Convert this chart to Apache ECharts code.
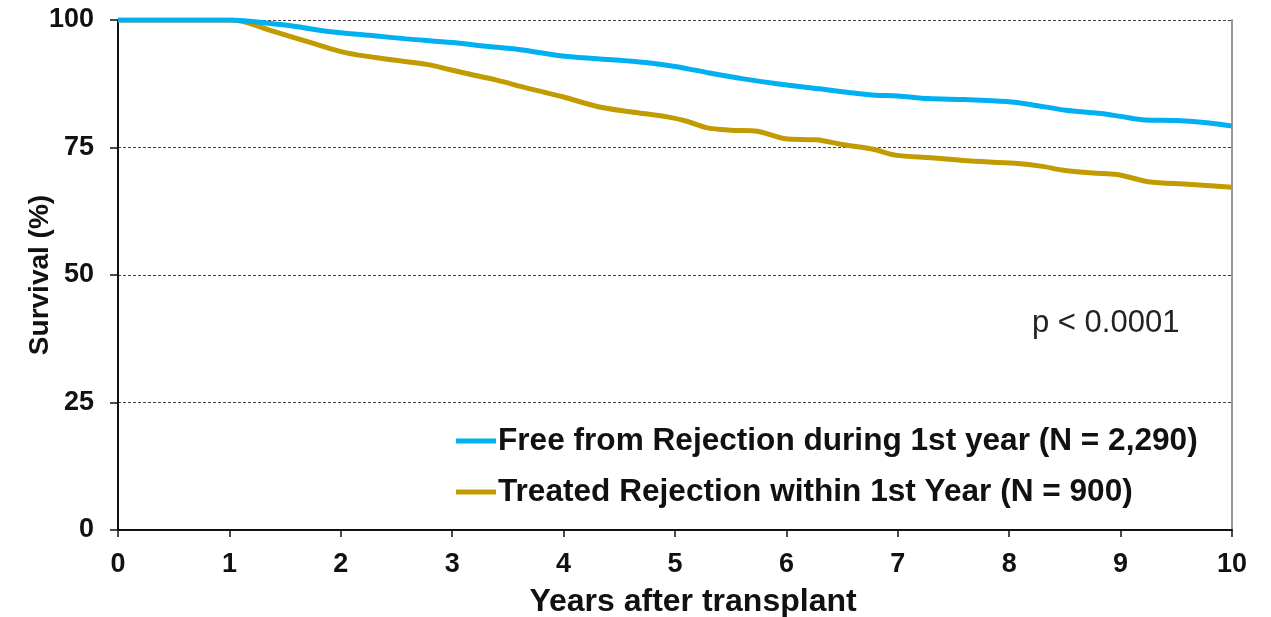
<!DOCTYPE html>
<html>
<head>
<meta charset="utf-8">
<script src="https://cdn.jsdelivr.net/npm/echarts@6/dist/echarts.min.js"></script>
<style>html,body{margin:0;padding:0;background:#fff;}#c{width:1271px;height:617px;}</style>
</head>
<body>
<div id="c"></div>
<script>
const seriesNames = ['Free from Rejection during 1st year (N = 2,290)', 'Treated Rejection within 1st Year (N = 900)'];
const xTicks = [0,1,2,3,4,5,6,7,8,9,10];
const yTicks = [0,25,50,75,100];
const freeYears = [0,1,1.15,1.5,1.91,2.3,2.59,3.0,3.28,3.6,3.97,4.3,4.66,5.0,5.31,5.6,5.95,6.3,6.56,6.77,7.0,7.27,7.6,7.98,8.2,8.51,8.8,9.0,9.22,9.5,9.75,10];
const freeSurv  = [100,100,99.8,99.0,97.7,96.9,96.3,95.6,94.9,94.2,93.0,92.4,91.8,90.9,89.6,88.5,87.4,86.5,85.8,85.3,85.1,84.6,84.4,84.0,83.4,82.3,81.7,81.1,80.4,80.3,79.9,79.2];
const treatedYears = [0,1.03,1.39,1.74,2.04,2.42,2.77,3.11,3.4,3.63,4.0,4.31,4.6,4.93,5.1,5.28,5.5,5.74,5.99,6.27,6.5,6.77,6.98,7.3,7.62,8.05,8.3,8.47,8.75,8.97,9.25,9.6,10];
const treatedSurv  = [100,100,97.8,95.5,93.6,92.3,91.3,89.6,88.2,86.9,84.9,83.0,82.0,81.0,80.2,78.9,78.4,78.2,76.7,76.5,75.6,74.7,73.5,73.0,72.4,71.9,71.3,70.6,70.0,69.7,68.3,67.8,67.2];
const pText = 'p < 0.0001';

const zip = (a,b) => a.map((v,i)=>[v,b[i]]);
const FONT = '"Liberation Sans", Arial, sans-serif';
const chart = echarts.init(document.getElementById('c'));
chart.setOption({
  animation:false,
  backgroundColor:'#fff',
  grid:{left:118,right:39,top:20,bottom:87,containLabel:false,outerBoundsMode:'none'},
  legend:{
    orient:'vertical', left:456, top:425, itemGap:19, padding:0,
    icon:'rect', itemWidth:40, itemHeight:5,
    textStyle:{fontFamily:FONT,fontWeight:'bold',fontSize:31.6,color:'#111',padding:[0,0,0,-3]},
    data:seriesNames
  },
  graphic:[{type:'text',left:1032,top:308,style:{text:pText,fontFamily:FONT,fontSize:31,fill:'#222'}}],
  xAxis:{
    type:'value',min:0,max:10,interval:1,
    name:'Years after transplant',nameLocation:'middle',nameGap:56,nameMoveOverlap:false,
    nameTextStyle:{fontFamily:FONT,fontWeight:'bold',fontSize:32,color:'#111',padding:[0,0,0,36]},
    axisLine:{lineStyle:{color:'#111',width:2}},
    axisTick:{show:true,length:7,lineStyle:{color:'#111',width:1.5}},
    axisLabel:{fontFamily:FONT,fontWeight:'bold',fontSize:27,color:'#111',margin:21,
      formatter:v=>xTicks.includes(v)?String(v):''},
    splitLine:{show:false}
  },
  yAxis:[{
    type:'value',min:0,max:100,interval:25,
    name:'Survival (%)',nameLocation:'middle',nameGap:64,nameMoveOverlap:false,
    nameTextStyle:{fontFamily:FONT,fontWeight:'bold',fontSize:28,color:'#111'},
    axisLine:{show:true,lineStyle:{color:'#111',width:2}},
    axisTick:{show:true,length:8,lineStyle:{color:'#111',width:1.5}},
    axisLabel:{fontFamily:FONT,fontWeight:'bold',fontSize:27,color:'#111',margin:24,
      formatter:v=>yTicks.includes(v)?String(v):''},
    splitLine:{show:true,lineStyle:{color:'#444',width:1,type:[3,2]}}
  },{
    type:'value',min:0,max:100,interval:25,position:'right',
    axisLine:{show:true,lineStyle:{color:'#999',width:2}},
    axisTick:{show:false},axisLabel:{show:false},splitLine:{show:false}
  }],
  series:[
    {name:seriesNames[0],type:'line',data:zip(freeYears,freeSurv),showSymbol:false,smooth:0.3,
     lineStyle:{color:'#00b0f0',width:5},itemStyle:{color:'#00b0f0'},z:3},
    {name:seriesNames[1],type:'line',data:zip(treatedYears,treatedSurv),showSymbol:false,smooth:0.3,
     lineStyle:{color:'#c29b00',width:5},itemStyle:{color:'#c29b00'},z:2}
  ]
});
</script>
</body>
</html>
